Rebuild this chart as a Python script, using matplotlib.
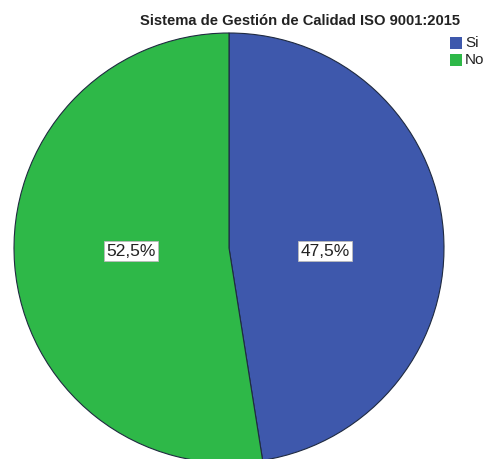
import matplotlib
matplotlib.use("Agg")
import matplotlib.pyplot as plt

categories = ["Si", "No"]
values = [47.5, 52.5]
colors = ["#3E58AC", "#2EB848"]
title = "Sistema de Gestión de Calidad ISO 9001:2015"

plt.rcParams['font.family'] = ['Liberation Sans', 'DejaVu Sans']

W, H = 489, 459
cx, cy, r = 229, H - 248, 215
fig = plt.figure(figsize=(W / 100, H / 100), dpi=100)
ax = fig.add_axes([0, 0, 1, 1])

wedges, texts, autotexts = ax.pie(
    values, colors=colors, startangle=90, counterclock=False,
    center=(cx, cy), radius=r,
    autopct=lambda p: f"{p:.1f}%".replace('.', ','), pctdistance=0.45,
    wedgeprops=dict(edgecolor="#1f2a40", linewidth=0.8),
    textprops=dict(fontsize=12.5, color="#222222"),
    frame=True,
)
ax.set_xlim(0, W)
ax.set_ylim(0, H)
ax.set_aspect('equal')
ax.axis('off')
label_x = [325, 131]
for t, lx in zip(autotexts, label_x):
    t.set_position((lx, H - 251))
    t.set_bbox(dict(facecolor="white", edgecolor="#bbbbbb", pad=2, linewidth=0.6))

fig.text(300 / W, 1 - 21 / H, title, ha='center', va='center', fontsize=10.6,
         fontweight='bold', color="#222222")

# legend
for i, (c, lab) in enumerate(zip(colors, categories)):
    y = 43 + i * 17
    ax.add_patch(plt.Rectangle((450, H - y - 6), 12, 12, facecolor=c, edgecolor='none'))
    ax.text(465, H - y, lab, ha='left', va='center', fontsize=11, color="#222222")

fig.savefig("out.png", dpi=100)
